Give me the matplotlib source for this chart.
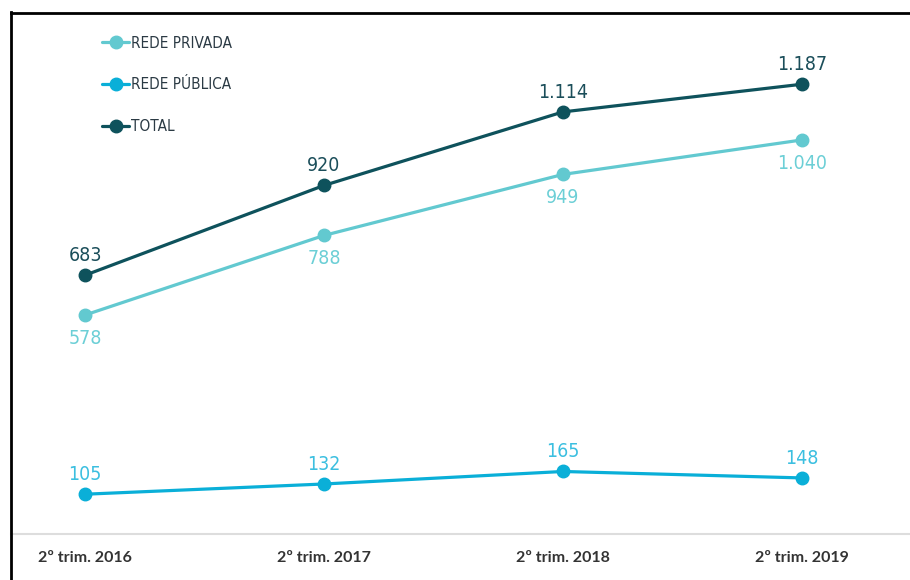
import matplotlib.pyplot as plt
from matplotlib.lines import Line2D

# Matrículas por trimestre
periodos = ["2º trim. 2016", "2º trim. 2017", "2º trim. 2018", "2º trim. 2019"]
rede_privada = [578, 788, 949, 1040]
rede_publica = [105, 132, 165, 148]
total = [683, 920, 1114, 1187]

c_privada = "#62C9D0"
c_publica = "#0AAFD8"
c_total = "#0E525C"

W, H = 910, 580
fig = plt.figure(figsize=(W / 100, H / 100), dpi=100)
ax = fig.add_axes([11 / W, (H - 534) / H, 1 - 11 / W, (534 - 13) / H])

x = list(range(len(periodos)))
lab_font = dict(family="DejaVu Sans", fontstretch="condensed", fontsize=14)

series = [
    ("REDE PRIVADA", rede_privada, c_privada, "#6CCFD6", -14, "top"),
    ("REDE PÚBLICA", rede_publica, c_publica, "#3BBFE0", 10, "bottom"),
    ("TOTAL", total, c_total, "#1B4E5A", 10, "bottom"),
]

for nome, vals, cor, cor_lab, dy, va in series:
    ax.plot(x, vals, color=cor, lw=2.3, marker="o", markersize=9,
            label=nome, solid_capstyle="round")
    for xi, v in zip(x, vals):
        txt = f"{v:,}".replace(",", ".")
        ax.annotate(txt, (xi, v), xytext=(0, dy), textcoords="offset pixels",
                    ha="center", va=va, color=cor_lab, **lab_font)

ax.set_xlim(-0.31, 3.452)
ax.set_ylim(0, 1375)
ax.set_yticks([])
ax.set_xticks(x)
ax.set_xticklabels(periodos, family="Lato", fontweight="bold",
                   fontsize=11.5, color="#333333")
ax.tick_params(axis="x", length=0, pad=12)

for s in ["left", "right"]:
    ax.spines[s].set_visible(False)
ax.spines["top"].set_color("black")
ax.spines["top"].set_linewidth(2)
ax.spines["bottom"].set_color("#DDDDDD")
ax.spines["bottom"].set_linewidth(1.5)

# moldura esquerda até o fim da figura
fig.add_artist(Line2D([11 / W, 11 / W], [0, 1 - 12 / H], color="black",
                      lw=2, transform=fig.transFigure))

leg = ax.legend(loc="upper left", bbox_to_anchor=(88 / W, 1 - 22 / H),
                bbox_transform=fig.transFigure, frameon=False,
                handlelength=1.8, handletextpad=0.1, labelspacing=1.75,
                prop=dict(family="DejaVu Sans", stretch="condensed", size=11))
for t in leg.get_texts():
    t.set_color("#2B3A44")

fig.savefig("out.png", dpi=100)
